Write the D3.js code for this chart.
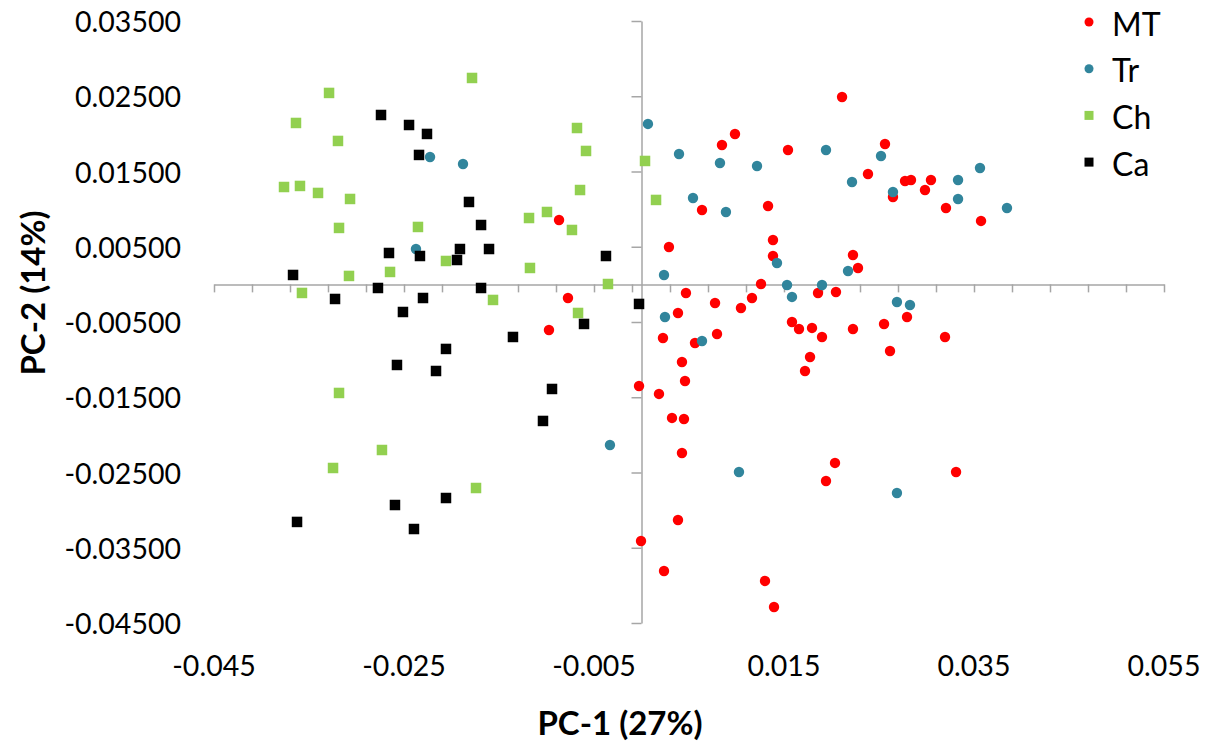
<!DOCTYPE html>
<html>
<head>
<meta charset="utf-8">
<script src="https://cdn.jsdelivr.net/npm/d3@7"></script>
<style>
  body { margin: 0; background: #fff; }
  svg text { font-family: Lato, "Open Sans", sans-serif; fill: #000; }
</style>
</head>
<body>
<div id="chart"></div>
<script>
// PCA scores
var mtX = [0.02111, 0.00984, 0.00847, 0.01542, 0.02563, 0.02384, 0.02774, 0.02837, 0.03047, 0.02984,
  0.02647, 0.03205, 0.03574, 0.00637, 0.01332, -0.00868, 0.01384, 0.00289, 0.01384, 0.02226,
  0.02279, 0.01258, 0.02047, 0.01858, 0.00468, -0.00774, 0.01163, 0.00774, 0.01047, 0.00384,
  0.01584, 0.02795, 0.02553, 0.01658, 0.01795, 0.02226, -0.00974, 0.00795, 0.00226, 0.01900,
  0.00563, 0.03195, 0.02616, 0.01774, 0.00426, 0.01721, 0.00458, -0.00026, 0.00184, 0.00321,
  0.00447, 0.00426, 0.02037, 0.01942, 0.03311, 0.00384, -0.00005, 0.00237, 0.01300, 0.01395];
var mtY = [0.02490, 0.01999, 0.01852, 0.01786, 0.01866, 0.01467, 0.01374, 0.01387, 0.01387, 0.01254,
  0.01161, 0.01015, 0.00843, 0.00989, 0.01042, 0.00856, 0.00590, 0.00497, 0.00377, 0.00391,
  0.00218, 0.00005, -0.00101, -0.00114, -0.00114, -0.00181, -0.00181, -0.00247, -0.00314, -0.00380,
  -0.00500, -0.00433, -0.00526, -0.00593, -0.00579, -0.00593, -0.00606, -0.00659, -0.00712, -0.00699,
  -0.00779, -0.00699, -0.00885, -0.00965, -0.01031, -0.01151, -0.01284, -0.01350, -0.01456, -0.01775,
  -0.01789, -0.02241, -0.02373, -0.02613, -0.02493, -0.03131, -0.03410, -0.03809, -0.03941, -0.04287];

var trX = [0.00068, 0.00395, 0.00826, 0.01216, 0.01942, 0.02521, -0.02226, -0.01879, 0.02216, 0.03332,
  0.03563, 0.03847, 0.03332, 0.02647, 0.00542, 0.00889, -0.02374, 0.01426, 0.00237, 0.02174,
  0.01532, 0.01900, 0.01584, 0.02689, 0.02826, 0.00247, 0.00637, -0.00332, 0.01026, 0.02689];
var trY = [0.02132, 0.01733, 0.01613, 0.01573, 0.01786, 0.01706, 0.01693, 0.01600, 0.01361, 0.01387,
  0.01547, 0.01015, 0.01135, 0.01228, 0.01148, 0.00962, 0.00470, 0.00284, 0.00125, 0.00178,
  -0.00008, -0.00008, -0.00167, -0.00234, -0.00274, -0.00433, -0.00752, -0.02134, -0.02493, -0.02772];

var chX = [-0.01784, -0.03289, -0.03637, -0.00679, -0.03195, -0.00584, 0.00037, -0.03763, -0.03595, -0.03405,
  -0.03068, -0.00647, 0.00153, -0.00995, -0.01184, -0.03184, -0.02353, -0.00732, -0.02058, -0.01174,
  -0.02647, -0.03079, -0.03574, -0.01563, -0.00353, -0.00668, -0.03184, -0.02732, -0.03247, -0.01742];
var chY = [0.02743, 0.02544, 0.02145, 0.02078, 0.01906, 0.01773, 0.01640, 0.01294, 0.01308, 0.01215,
  0.01135, 0.01254, 0.01122, 0.00962, 0.00882, 0.00750, 0.00763, 0.00723, 0.00311, 0.00218,
  0.00165, 0.00112, -0.00114, -0.00207, 0.00005, -0.00380, -0.01443, -0.02201, -0.02440, -0.02706];

var caX = [-0.02742, -0.02447, -0.02258, -0.02342, -0.01816, -0.01689, -0.02658, -0.02332, -0.01911, -0.01605,
  -0.01942, -0.00374, -0.03668, -0.02774, -0.01689, -0.03226, -0.02300, -0.02511, -0.00605, -0.00026,
  -0.01353, -0.02058, -0.02574, -0.02163, -0.00942, -0.01037, -0.02058, -0.02595, -0.02395, -0.03626];
var caY = [0.02251, 0.02118, 0.01999, 0.01720, 0.01095, 0.00789, 0.00417, 0.00377, 0.00470, 0.00470,
  0.00324, 0.00377, 0.00125, -0.00048, -0.00048, -0.00194, -0.00181, -0.00367, -0.00526, -0.00260,
  -0.00699, -0.00858, -0.01071, -0.01151, -0.01390, -0.01815, -0.02839, -0.02932, -0.03251, -0.03157];

var seriesNames = ["MT", "Tr", "Ch", "Ca"];
var seriesColors = ["#ff0000", "#31859c", "#92d050", "#000000"];
var seriesShapes = ["circle", "circle", "square", "square"];

var xTickLabels = [-0.045, -0.025, -0.005, 0.015, 0.035, 0.055];
var yTickLabels = [0.035, 0.025, 0.015, 0.005, -0.005, -0.015, -0.025, -0.035, -0.045];
var xMinorStep = 0.004;

var margin = {top: 21, right: 45, bottom: 123, left: 214};
var width = 1209 - margin.left - margin.right;
var height = 746 - margin.top - margin.bottom;

var svg = d3.select("#chart").append("svg")
  .attr("width", 1209)
  .attr("height", 746);

var g = svg.append("g")
  .attr("transform", "translate(" + margin.left + "," + margin.top + ")");

var x = d3.scaleLinear().domain([-0.045, 0.055]).range([0, width]);
var y = d3.scaleLinear().domain([-0.045, 0.035]).range([height, 0]);

var axisColor = "#a6a6a6";

// horizontal axis through y = 0, minor ticks every 0.004
var xMinor = d3.range(0, 26).map(function(i) { return -0.045 + i * xMinorStep; });
var xAxis = g.append("g")
  .attr("transform", "translate(0," + y(0) + ")")
  .call(d3.axisBottom(x).tickValues(xMinor).tickSize(8).tickSizeOuter(0).tickFormat(""));

// vertical axis through x = 0
var yAxis = g.append("g")
  .attr("transform", "translate(" + x(0) + ",0)")
  .call(d3.axisLeft(y).tickValues(yTickLabels).tickSize(10).tickSizeOuter(0).tickFormat(""));

[xAxis, yAxis].forEach(function(a) {
  a.select(".domain").attr("stroke", axisColor).attr("stroke-width", 1.5);
  a.selectAll(".tick line").attr("stroke", axisColor).attr("stroke-width", 1.5);
});

// tick labels sit at the low end of the plot
g.append("g")
  .selectAll("text")
  .data(xTickLabels)
  .enter().append("text")
  .attr("x", function(d) { return x(d); })
  .attr("y", height + 42)
  .attr("text-anchor", "middle")
  .attr("dominant-baseline", "central")
  .style("font-size", "28.5px")
  .text(function(d) { return d.toFixed(3); });

g.append("g")
  .selectAll("text")
  .data(yTickLabels)
  .enter().append("text")
  .attr("x", -33)
  .attr("y", function(d) { return y(d); })
  .attr("text-anchor", "end")
  .attr("dominant-baseline", "central")
  .style("font-size", "28.5px")
  .text(function(d) { return d.toFixed(5); });

// points
var allX = [mtX, trX, chX, caX];
var allY = [mtY, trY, chY, caY];
var markerR = 5.2, markerSide = 10.5;

seriesNames.forEach(function(name, s) {
  var pts = allX[s].map(function(v, i) { return [v, allY[s][i]]; });
  var layer = g.append("g").attr("fill", seriesColors[s]);
  if (seriesShapes[s] === "circle") {
    layer.selectAll("circle").data(pts).enter().append("circle")
      .attr("cx", function(d) { return x(d[0]); })
      .attr("cy", function(d) { return y(d[1]); })
      .attr("r", markerR);
  } else {
    layer.selectAll("rect").data(pts).enter().append("rect")
      .attr("x", function(d) { return x(d[0]) - markerSide / 2; })
      .attr("y", function(d) { return y(d[1]) - markerSide / 2; })
      .attr("width", markerSide)
      .attr("height", markerSide);
  }
});

// legend
var legend = svg.append("g").attr("transform", "translate(1089,22)");
seriesNames.forEach(function(name, i) {
  var row = legend.append("g").attr("transform", "translate(0," + (i * 46.7) + ")");
  if (seriesShapes[i] === "circle") {
    row.append("circle").attr("r", 4.5).attr("fill", seriesColors[i]);
  } else {
    row.append("rect").attr("x", -4.5).attr("y", -4.5).attr("width", 9).attr("height", 9)
      .attr("fill", seriesColors[i]);
  }
  row.append("text")
    .attr("x", 23)
    .attr("y", 1)
    .attr("dominant-baseline", "central")
    .style("font-size", "32px")
    .text(name);
});

// axis titles
svg.append("text")
  .attr("transform", "translate(32,293) rotate(-90)")
  .attr("text-anchor", "middle")
  .attr("dominant-baseline", "central")
  .style("font-size", "33px")
  .style("font-weight", "bold")
  .text("PC-2 (14%)");

svg.append("text")
  .attr("x", 620)
  .attr("y", 722)
  .attr("text-anchor", "middle")
  .attr("dominant-baseline", "central")
  .style("font-size", "33px")
  .style("font-weight", "bold")
  .text("PC-1 (27%)");
</script>
</body>
</html>
